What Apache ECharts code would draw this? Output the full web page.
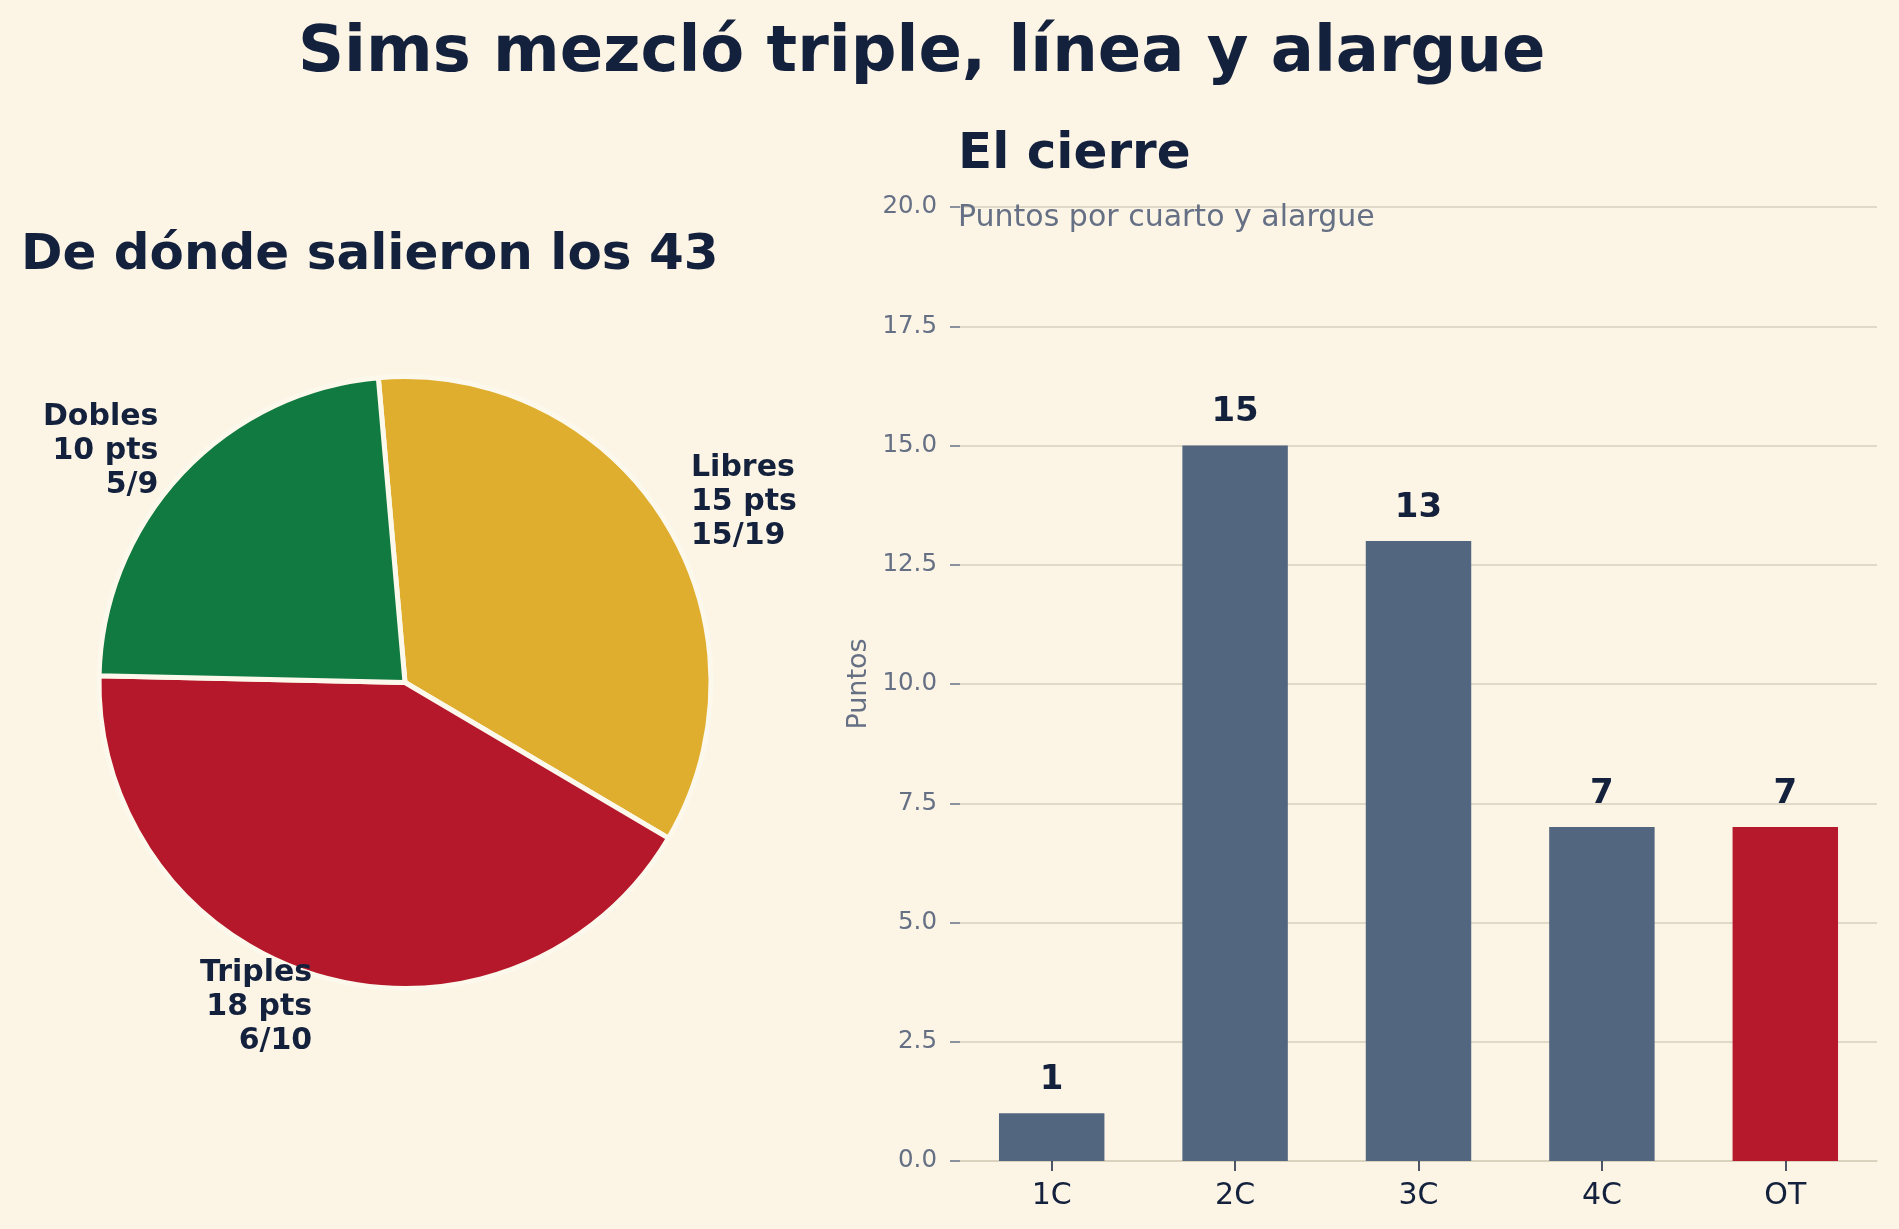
<!doctype html>
<html>
<head>
<meta charset="utf-8">
<script src="https://cdn.jsdelivr.net/npm/echarts@6/dist/echarts.min.js"></script>
<style>
    html, body {margin: 0; padding: 0; background: #fcf5e6;}
    #main {width: 1899px; height: 1229px;}
</style>
</head>
<body>
<div id="main"></div>
<script>
    // tiros
    var shotTypes = ['Libres', 'Triples', 'Dobles'];
    var shotPoints = [15, 18, 10];
    var shotMade = ['15/19', '6/10', '5/9'];
    // cuartos
    var periods = ['1C', '2C', '3C', '4C', 'OT'];
    var periodPoints = [1, 15, 13, 7, 7];

    var pieColors = ['#e0ae2e', '#b5182b', '#107a40'];
    var ink = '#14213d', grey = '#667085', rule = '#d9cfbc';
    var font = 'DejaVu Sans';

    var dom = document.getElementById('main');
    var myChart = echarts.init(dom, null, {renderer: 'canvas'});

    var pieData = shotTypes.map(function (n, i) {
        return {name: n, value: shotPoints[i], itemStyle: {color: pieColors[i]}};
    });
    var barData = periodPoints.map(function (v, i) {
        return {value: v, itemStyle: {color: periods[i] === 'OT' ? '#b5192b' : '#52667f'}};
    });

    var option = {
        backgroundColor: '#fcf5e6',
        animation: false,
        textStyle: {fontFamily: font},
        title: [
            {text: 'Sims mezcló triple, línea y alargue', left: 298, top: 22, padding: 0,
                textStyle: {fontFamily: font, fontSize: 64, lineHeight: 64, fontWeight: 'bold', color: ink}},
            {text: 'De dónde salieron los 43', left: 21, top: 231, padding: 0,
                textStyle: {fontFamily: font, fontSize: 50, lineHeight: 50, fontWeight: 'bold', color: ink}},
            {text: 'El cierre', left: 958, top: 130, padding: 0,
                textStyle: {fontFamily: font, fontSize: 50, lineHeight: 50, fontWeight: 'bold', color: ink}},
            {text: 'Puntos por cuarto y alargue', left: 958, top: 203, padding: 0,
                textStyle: {fontFamily: font, fontSize: 30, lineHeight: 30, fontWeight: 'normal', color: grey}}
        ],
        grid: {left: 960, right: 22, top: 207, bottom: 68, containLabel: false},
        xAxis: {
            type: 'category',
            data: periods,
            axisLine: {show: true, lineStyle: {color: rule, width: 1.5}},
            axisTick: {show: true, alignWithLabel: true, length: 10, lineStyle: {color: ink, width: 1.5}},
            axisLabel: {margin: 20, fontFamily: font, fontSize: 30, lineHeight: 30, color: ink}
        },
        yAxis: {
            type: 'value',
            min: 0, max: 20, interval: 2.5,
            name: 'Puntos',
            nameLocation: 'middle',
            nameRotate: 90,
            nameGap: 87.5,
            nameTextStyle: {fontFamily: font, fontSize: 27, color: grey},
            axisLine: {show: false},
            axisTick: {show: true, length: 10, lineStyle: {color: grey, width: 1.5}},
            axisLabel: {margin: 23, fontFamily: font, fontSize: 24.5, color: grey,
                formatter: function (v) { return v.toFixed(1); }},
            splitLine: {show: true, lineStyle: {color: rule, width: 1.5}}
        },
        series: [
            {
                type: 'pie',
                center: [405, 682.5],
                radius: 306,
                startAngle: 95,
                clockwise: true,
                avoidLabelOverlap: false,
                itemStyle: {borderColor: '#fdf8ec', borderWidth: 5},
                label: {
                    show: true,
                    position: 'outside',
                    distanceToLabelLine: 0,
                    fontFamily: font, fontSize: 30, lineHeight: 34, fontWeight: 'bold', color: ink,
                    formatter: function (p) {
                        return p.name + '\n' + p.value + ' pts\n' + shotMade[p.dataIndex];
                    }
                },
                labelLine: {show: false, length: 32, length2: 0},
                emphasis: {disabled: true},
                data: pieData
            },
            {
                type: 'bar',
                barWidth: '57.5%',
                label: {
                    show: true, position: 'top', distance: 16,
                    fontFamily: font, fontSize: 34, lineHeight: 34, fontWeight: 'bold', color: ink
                },
                data: barData
            }
        ]
    };
    myChart.setOption(option, true);
</script>
</body>
</html>
